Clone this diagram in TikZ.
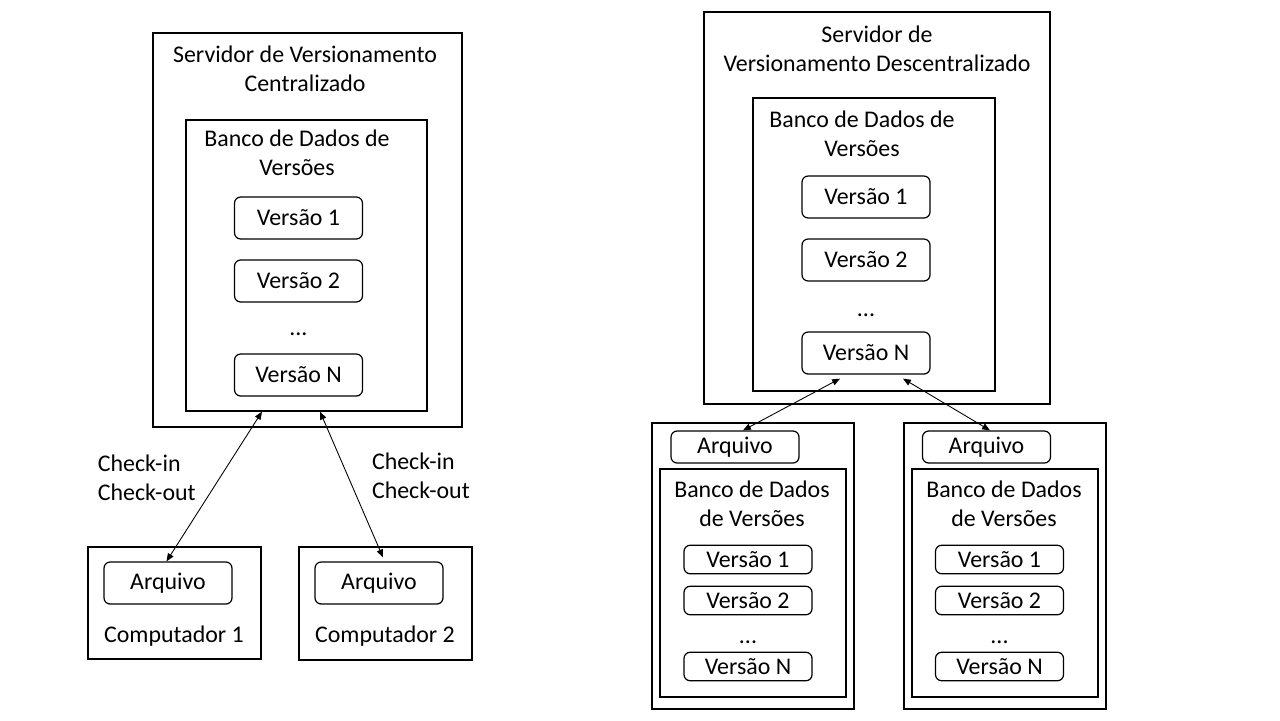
\documentclass[tikz,border=0pt]{standalone}
\usepackage{fontspec}
\setmainfont{Carlito}
\usetikzlibrary{arrows.meta,positioning}

\begin{document}
\begin{tikzpicture}[
        every node/.style={font=\fontsize{13.6}{16.5}\selectfont},
        frame/.style={draw, rectangle, line width=0.7pt, inner sep=0pt},
        verbox/.style={draw, rectangle, rounded corners=3.5pt, line width=0.7pt, minimum width=2.56cm, minimum height=0.84cm},
        smallbox/.style={verbox, minimum height=0.57cm},
        link/.style={{Triangle[length=4.5pt,width=3.6pt]}-{Triangle[length=4.5pt,width=3.6pt]}, line width=0.5pt}
    ]
    \useasboundingbox (0,0) rectangle (25.6,-14.4);

    % centralizado
    \node[frame, minimum width=6.18cm, minimum height=7.88cm] (srvC) at (6.15,-4.60) {};
    \node[align=center] (srvCtitle) at (6.10,-1.37) {Servidor de Versionamento\\Centralizado};
    \node[frame, minimum width=4.82cm, minimum height=5.82cm] (dbC) at (6.13,-5.31) {};
    \node[align=center] (dbCtitle) at (5.94,-3.05) {Banco de Dados de\\Versões};
    \node[verbox] (vC1) at (5.97,-4.36) {Versão 1};
    \node[verbox] (vC2) at (5.97,-5.62) {Versão 2};
    \node (dotsC) at (5.97,-6.68) {...};
    \node[verbox] (vCN) at (5.97,-7.50) {Versão N};

    \node[frame, minimum width=3.46cm, minimum height=2.24cm] (pc1) at (3.49,-12.06) {};
    \node[verbox] (arq1) at (3.36,-11.66) {Arquivo};
    \node (pc1label) at (3.48,-12.72) {Computador 1};
    \node[frame, minimum width=3.46cm, minimum height=2.26cm] (pc2) at (7.71,-12.07) {};
    \node[verbox] (arq2) at (7.58,-11.66) {Arquivo};
    \node (pc2label) at (7.70,-12.72) {Computador 2};

    \draw[link] ([xshift=-0.89cm]dbC.south) -- node[pos=0.44, left=0.36cm, align=left] {Check-in\\Check-out} ([xshift=-0.03cm]arq1.north);
    \draw[link] ([xshift=0.27cm]dbC.south) -- node[pos=0.44, right=0.36cm, align=left] {Check-in\\Check-out} ([xshift=0.08cm, yshift=0.08cm]arq2.north);

    % descentralizado
    \node[frame, minimum width=6.92cm, minimum height=7.84cm] (srvD) at (17.54,-4.16) {};
    \node[align=center] (srvDtitle) at (17.54,-0.97) {Servidor de\\Versionamento Descentralizado};
    \node[frame, minimum width=4.84cm, minimum height=5.86cm] (dbD) at (17.48,-4.89) {};
    \node[align=center] (dbDtitle) at (17.24,-2.67) {Banco de Dados de\\Versões};
    \node[verbox] (vD1) at (17.32,-3.94) {Versão 1};
    \node[verbox] (vD2) at (17.32,-5.20) {Versão 2};
    \node (dotsD) at (17.32,-6.30) {...};
    \node[verbox] (vDN) at (17.32,-7.06) {Versão N};

    % clientes
    \node[frame, minimum width=4.04cm, minimum height=5.72cm] (cl1) at (15.06,-11.32) {};
    \node[smallbox, minimum height=0.60cm] (arq3) at (14.70,-8.94) {Arquivo};
    \node[frame, minimum width=3.72cm, minimum height=4.56cm] (dbE) at (15.06,-11.66) {};
    \node[align=center] (dbEtitle) at (15.04,-10.08) {Banco de Dados\\de Versões};
    \node[smallbox] (vE1) at (14.96,-11.19) {Versão 1};
    \node[smallbox] (vE2) at (14.96,-12.01) {Versão 2};
    \node (dotsE) at (14.96,-12.84) {...};
    \node[smallbox] (vEN) at (14.96,-13.33) {Versão N};

    \node[frame, minimum width=4.04cm, minimum height=5.72cm] (cl2) at (20.10,-11.32) {};
    \node[smallbox, minimum height=0.60cm] (arq4) at (19.73,-8.94) {Arquivo};
    \node[frame, minimum width=3.72cm, minimum height=4.56cm] (dbF) at (20.10,-11.66) {};
    \node[align=center] (dbFtitle) at (20.08,-10.08) {Banco de Dados\\de Versões};
    \node[smallbox] (vF1) at (19.99,-11.19) {Versão 1};
    \node[smallbox] (vF2) at (19.99,-12.01) {Versão 2};
    \node (dotsF) at (19.99,-12.84) {...};
    \node[smallbox] (vFN) at (19.99,-13.33) {Versão N};

    \draw[link] ([xshift=-0.52cm, yshift=-0.08cm]vDN.south) -- ([xshift=0.16cm]arq3.north);
    \draw[link] ([xshift=0.74cm, yshift=-0.08cm]vDN.south) -- ([xshift=0.07cm]arq4.north);
\end{tikzpicture}
\end{document}
